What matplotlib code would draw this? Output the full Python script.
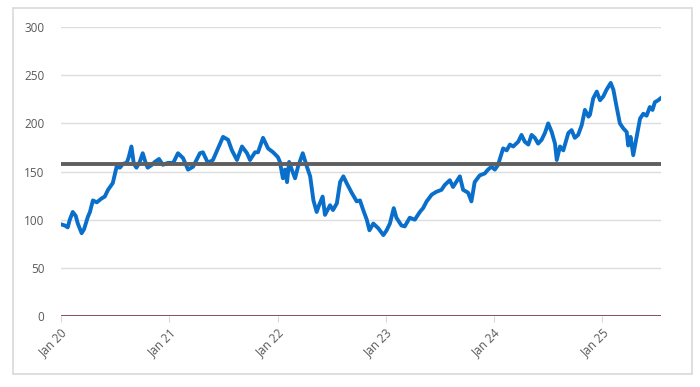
import matplotlib
matplotlib.use("Agg")
import matplotlib.pyplot as plt
import pandas as pd
from matplotlib.patches import Rectangle

# valores (aprox.)
datas = [
    "2020-01-03", "2020-01-14", "2020-01-24", "2020-01-31", "2020-02-10", "2020-02-20",
    "2020-02-27", "2020-03-11", "2020-03-19", "2020-04-01", "2020-04-08", "2020-04-18",
    "2020-05-01", "2020-05-17", "2020-05-28", "2020-06-08", "2020-06-24", "2020-07-07",
    "2020-07-18", "2020-07-28", "2020-08-10", "2020-08-17", "2020-08-26", "2020-09-03",
    "2020-09-12", "2020-09-23", "2020-10-03", "2020-10-14", "2020-10-20", "2020-11-03",
    "2020-11-13", "2020-11-27", "2020-12-10", "2020-12-27", "2021-01-14", "2021-01-30",
    "2021-02-16", "2021-03-05", "2021-03-22", "2021-04-14", "2021-04-24", "2021-05-11",
    "2021-05-28", "2021-06-14", "2021-07-01", "2021-07-18", "2021-07-31", "2021-08-17",
    "2021-09-03", "2021-09-20", "2021-09-30", "2021-10-17", "2021-10-27", "2021-11-13",
    "2021-11-30", "2021-12-17", "2022-01-02", "2022-01-09", "2022-01-19", "2022-01-26",
    "2022-02-02", "2022-02-09", "2022-02-18", "2022-03-01", "2022-03-11", "2022-03-27",
    "2022-04-10", "2022-04-21", "2022-05-02", "2022-05-13", "2022-05-21", "2022-06-02",
    "2022-06-10", "2022-06-27", "2022-07-07", "2022-07-20", "2022-07-31", "2022-08-11",
    "2022-08-22", "2022-09-08", "2022-09-25", "2022-10-06", "2022-10-17", "2022-10-29",
    "2022-11-07", "2022-11-20", "2022-12-07", "2022-12-24", "2023-01-04", "2023-01-15",
    "2023-01-28", "2023-02-06", "2023-02-23", "2023-03-06", "2023-03-23", "2023-04-09",
    "2023-04-26", "2023-05-07", "2023-05-19", "2023-06-05", "2023-06-21", "2023-07-08",
    "2023-07-19", "2023-08-05", "2023-08-16", "2023-09-08", "2023-09-19", "2023-10-06",
    "2023-10-17", "2023-10-28", "2023-11-14", "2023-12-01", "2023-12-12", "2023-12-24",
    "2024-01-04", "2024-01-15", "2024-01-27", "2024-02-01", "2024-02-13", "2024-02-24",
    "2024-03-06", "2024-03-23", "2024-04-03", "2024-04-14", "2024-04-26", "2024-05-07",
    "2024-05-18", "2024-05-29", "2024-06-10", "2024-06-21", "2024-07-02", "2024-07-14",
    "2024-07-25", "2024-07-31", "2024-08-11", "2024-08-22", "2024-09-08", "2024-09-19",
    "2024-09-30", "2024-10-11", "2024-10-23", "2024-11-03", "2024-11-15", "2024-11-20",
    "2024-12-01", "2024-12-13", "2024-12-24", "2025-01-04", "2025-01-15", "2025-01-29",
    "2025-02-07", "2025-02-18", "2025-03-01", "2025-03-12", "2025-03-24", "2025-03-29",
    "2025-04-06", "2025-04-15", "2025-04-26", "2025-05-08", "2025-05-19", "2025-05-30",
    "2025-06-10", "2025-06-19", "2025-06-27", "2025-07-08", "2025-07-16",
]
valores = [
    95, 94, 92, 100, 108, 104,
    96, 86, 90, 103, 108, 120,
    118, 122, 124, 131, 138, 155,
    154, 158, 159, 165, 176, 158,
    154, 160, 169, 158, 154, 157,
    160, 163, 157, 159, 159, 169,
    164, 152, 155, 169, 170, 159,
    162, 174, 186, 183, 172, 162,
    176, 169, 162, 170, 170, 185,
    174, 170, 165, 160, 143, 152,
    139, 160, 152, 143, 155, 169,
    155, 145, 120, 108, 115, 124,
    105, 115, 110, 117, 139, 145,
    138, 128, 119, 120, 110, 100,
    89, 96, 91, 84, 89, 96,
    112, 102, 94, 93, 102, 100,
    108, 112, 119, 126, 129, 131,
    136, 141, 134, 145, 131, 128,
    119, 139, 146, 148, 152, 155,
    152, 157, 169, 174, 172, 178,
    176, 181, 188, 181, 178, 188,
    185, 179, 183, 190, 200, 191,
    179, 162, 176, 172, 190, 193,
    185, 188, 198, 214, 207, 209,
    226, 233, 224, 228, 235, 242,
    235, 217, 200, 195, 191, 177,
    186, 167, 185, 205, 210, 208,
    217, 214, 222, 224, 226,
]
media = 158
inicio, fim = "2020-01-01", "2025-07-17"
anos_ticks = ["2020-01-01", "2021-01-01", "2022-01-01", "2023-01-01", "2024-01-01", "2025-01-01"]
rotulos_x = ["Jan 20", "Jan 21", "Jan 22", "Jan 23", "Jan 24", "Jan 25"]
y_ticks = [0, 50, 100, 150, 200, 250, 300]

serie = pd.Series(valores, index=pd.to_datetime(datas))

plt.rcParams["font.family"] = ["Open Sans", "DejaVu Sans"]
fig = plt.figure(figsize=(7, 3.87), dpi=100)
ax = fig.add_axes([0.087, 0.1835, 0.857, 0.7465])

# moldura cinza clara em volta do gráfico
fig.patches.append(Rectangle((13 / 700, 1 - 374 / 387), 679 / 700, 366 / 387,
                             transform=fig.transFigure, fill=False,
                             edgecolor="#D9D9D9", linewidth=1.2))

ax.plot(serie.index, serie.values, color="#0A6FCB", linewidth=2.8,
        solid_joinstyle="round", zorder=4)
ax.axhline(media, color="#5F5F5F", linewidth=2.8, zorder=5)
ax.axhline(0, color="#6E1633", linewidth=1.8, zorder=5)

ax.set_xlim(pd.Timestamp(inicio), pd.Timestamp(fim))
ax.set_ylim(0, 300)
ax.set_yticks(y_ticks)
ax.set_xticks(pd.to_datetime(anos_ticks))
ax.set_xticklabels(rotulos_x, rotation=45, ha="right", rotation_mode="anchor")
ax.grid(axis="y", color="#DDDDDD", linewidth=1)
ax.set_axisbelow(True)
for s in ax.spines.values():
    s.set_visible(False)
ax.tick_params(axis="y", length=0, pad=12, labelsize=8.5, labelcolor="#595959")
ax.tick_params(axis="x", length=4, width=0.8, color="#D9D9D9", pad=3,
               labelsize=8.5, labelcolor="#595959")

fig.savefig("out.png", dpi=100)
